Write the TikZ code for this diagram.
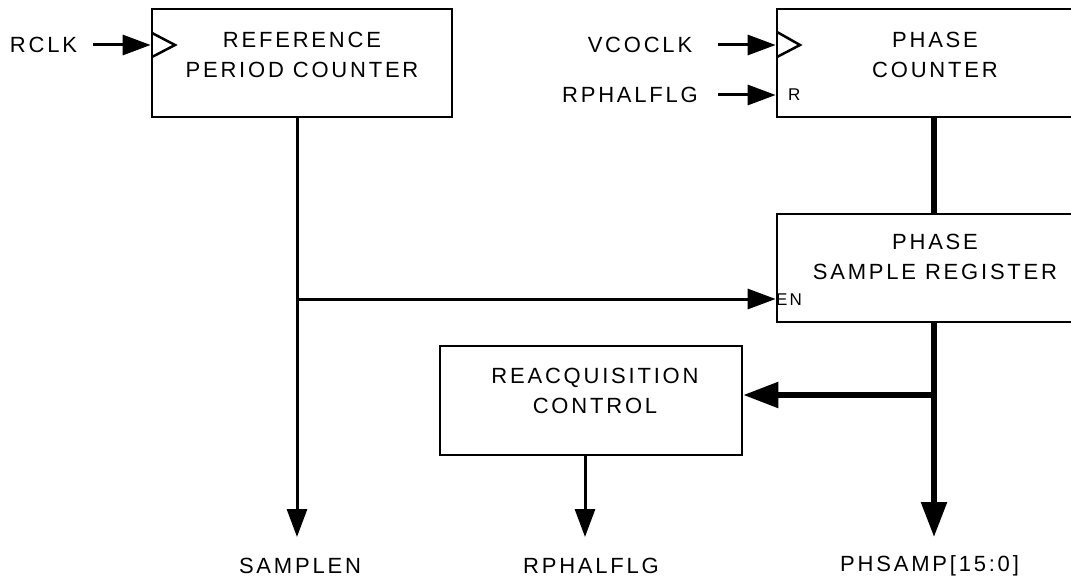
\documentclass[tikz,border=0pt]{standalone}
\usepackage{fontspec}
\setmainfont[LetterSpace=12.7]{Liberation Sans}
\usetikzlibrary{arrows.meta}
\begin{document}
\begin{tikzpicture}[x=1pt,y=-1pt,
  box/.style={draw, line width=2.7pt, inner sep=0pt},
  txt/.style={font=\fontsize{22}{30}\selectfont, align=center, inner sep=0pt},
  small/.style={font=\fontsize{17}{20}\selectfont, inner sep=0pt},
  wire/.style={line width=3pt},
  arr/.style={line width=3pt, -{Triangle[length=28pt,width=20pt]}},
  bus/.style={line width=5.5pt},
  busarr/.style={line width=5.5pt, -{Triangle[length=35pt,width=25pt]}},
  clk/.style={line width=2.5pt, line join=miter}]
\clip (0,0) rectangle (1071,580);
\fill[white] (0,0) rectangle (1071,580);
% boxes
\node[box, minimum width=300pt, minimum height=108pt] (b1) at (302,63) {};
\node[box, minimum width=316pt, minimum height=108pt] (pc) at (935,63) {};
\node[box, minimum width=316pt, minimum height=108pt] (psr) at (935,268) {};
\node[box, minimum width=302pt, minimum height=109pt] (rc) at (591,400.5) {};
% box texts
\node[txt] (t1) at (302,54.5) {REFERENCE\\PERIOD COUNTER};
\node[txt] (t2) at (935,54.5) {PHASE\\COUNTER};
\node[txt] (t3) at (935,256.5) {PHASE\\SAMPLE REGISTER};
\node[txt] (t4) at (595,391) {REACQUISITION\\CONTROL};
% clock triangles
\draw[clk] (152,33) coordinate (c1a) -- (175,45) coordinate (c1b) -- (152,57) coordinate (c1c);
\draw[clk] (777,32) coordinate (c2a) -- (800,45) coordinate (c2b) -- (777,57) coordinate (c2c);
% pin labels
\node[small, anchor=west] (rpin) at (788,95) {R};
\node[small, anchor=west] (enpin) at (776,300) {EN};
% input labels
\node[txt] (rclk) at (43.5,45) {RCLK};
\node[txt] (vcoclk) at (640,45) {VCOCLK};
\node[txt] (rphin) at (630,95) {RPHALFLG};
\coordinate (s1) at (93,45);
\coordinate (s2) at (718,45);
\coordinate (s3) at (718,95);
\draw[arr] (s1) -- (s1 -| b1.west);
\draw[arr] (s2) -- (s2 -| pc.west);
\draw[arr] (s3) -- (s3 -| pc.west);
% outputs
\node[txt] (samplen) at (300,566) {SAMPLEN};
\node[txt] (rphout) at (591,566) {RPHALFLG};
\node[txt, anchor=west] (phsamp) at (840,566) {PHSAMP[15:0]};
\coordinate (j1) at (297,299);
\coordinate (tipS) at (297,537);
\coordinate (tipR) at (585,537);
\coordinate (tipP) at (934,537);
\coordinate (j2) at (934,395);
\draw[wire] (b1.south -| j1) -- (j1);
\draw[arr] (j1) -- (tipS);
\draw[arr] (j1) -- (j1 -| psr.west);
\draw[arr] (rc.south -| tipR) -- (tipR);
\draw[bus] (pc.south -| j2) -- (psr.north -| j2);
\draw[bus] (psr.south -| j2) -- (j2);
\draw[busarr] (j2) -- (tipP);
\draw[busarr] (j2) -- (j2 -| rc.east);
\end{tikzpicture}
\end{document}
